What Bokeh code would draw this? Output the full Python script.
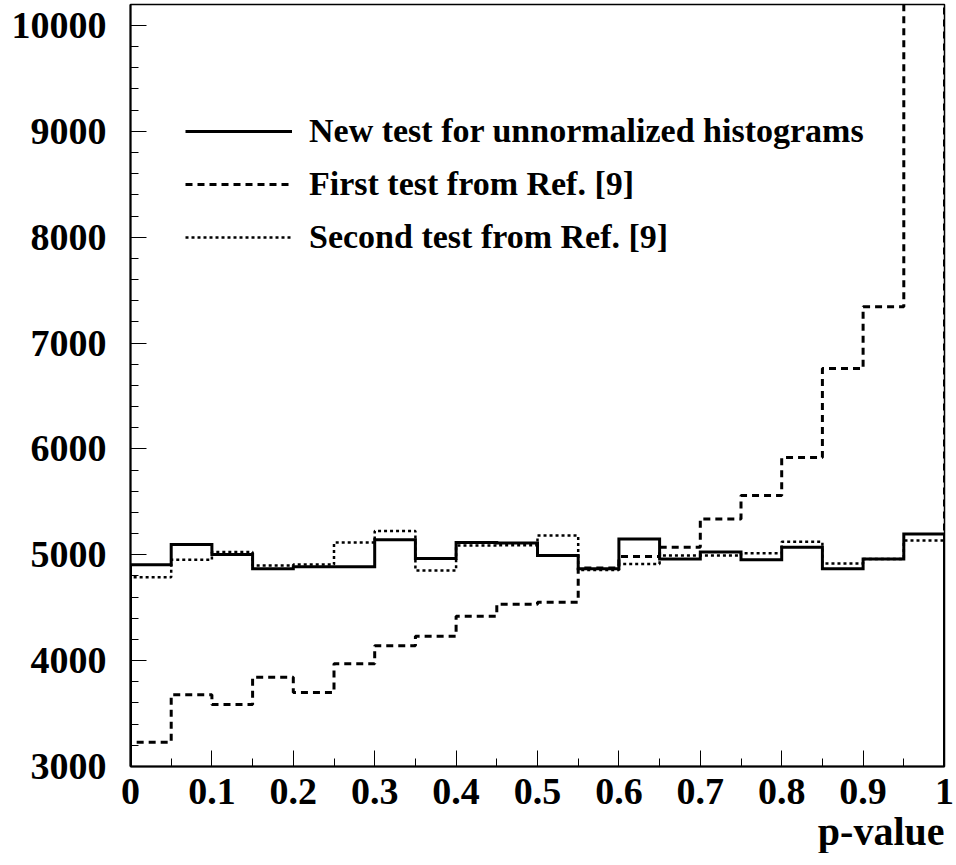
import numpy as np
from bokeh.plotting import figure
from bokeh.models import (SingleIntervalTicker, CustomJSTickFormatter, Legend,
                          LegendItem, Title, Range1d, ColumnDataSource)
from bokeh.embed import file_html
from bokeh.resources import INLINE

# ---- data ----
bin_edges = [0.00, 0.05, 0.10, 0.15, 0.20, 0.25, 0.30, 0.35, 0.40, 0.45, 0.50,
             0.55, 0.60, 0.65, 0.70, 0.75, 0.80, 0.85, 0.90, 0.95, 1.00]
new_test = [4905, 5096, 5002, 4867, 4888, 4888, 5143, 4964, 5115, 5112,
            4992, 4867, 5150, 4961, 5027, 4952, 5071, 4867, 4961, 5197]
first_test = [3229, 3677, 3585, 3843, 3699, 3970, 4140, 4231, 4419, 4533,
              4552, 4876, 4983, 5071, 5339, 5559, 5918, 6759, 7344, 12000]
second_test = [4788, 4952, 5027, 4898, 4907, 5115, 5225, 4851, 5087, 5090,
               5181, 4857, 4914, 4992, 4992, 5014, 5122, 4917, 4961, 5134]
labels = ["New test for unnormalized histograms",
          "First test from Ref. [9]",
          "Second test from Ref. [9]"]
x_label = "p-value"

FONT = "Liberation Serif"


def outline(values):
    xs = np.repeat(np.asarray(bin_edges, dtype=float), 2)
    ys = np.concatenate([[0.0], np.repeat(np.asarray(values, dtype=float), 2), [0.0]])
    return ColumnDataSource(dict(x=xs, y=ys))


p = figure(frame_width=814, frame_height=762, output_backend="svg",
           toolbar_location=None, x_range=Range1d(0, 1),
           y_range=Range1d(3000, 10198),
           min_border_left=130, min_border_right=12, min_border_top=4,
           min_border_bottom=0)

p.xgrid.visible = False
p.ygrid.visible = False
p.outline_line_color = "black"
p.outline_line_width = 1.5
p.outline_line_alpha = 1.0
p.background_fill_color = "white"

r_new = p.line("x", "y", source=outline(new_test), line_color="black",
               line_width=3, line_join="miter")
r_first = p.line("x", "y", source=outline(first_test), line_color="black",
                 line_width=3, line_dash="7 5")
r_second = p.line("x", "y", source=outline(second_test), line_color="black",
                  line_width=2.5, line_dash="3 3")

for ax in (p.xaxis[0], p.yaxis[0]):
    ax.major_tick_in = 16
    ax.major_tick_out = 0
    ax.minor_tick_in = 8
    ax.minor_tick_out = 0
    ax.axis_line_width = 2
    ax.axis_line_color = "black"
    ax.major_tick_line_color = "black"
    ax.minor_tick_line_color = "black"
    ax.major_tick_line_width = 1
    ax.minor_tick_line_width = 1
    ax.major_label_text_font = FONT
    ax.major_label_text_font_style = "bold"
    ax.major_label_text_font_size = "38px"
    ax.major_label_text_color = "black"

p.xaxis.ticker = SingleIntervalTicker(interval=0.1, num_minor_ticks=2)
p.yaxis.ticker = SingleIntervalTicker(interval=1000, num_minor_ticks=5)
p.xaxis.formatter = CustomJSTickFormatter(code="return Number(tick.toFixed(2)).toString();")
p.xaxis.major_label_standoff = 12
p.yaxis.major_label_standoff = 24

legend = Legend(items=[LegendItem(label=labels[0], renderers=[r_new]),
                       LegendItem(label=labels[1], renderers=[r_first]),
                       LegendItem(label=labels[2], renderers=[r_second])],
                location=(55, 509), glyph_width=107, glyph_height=40,
                label_height=40, label_standoff=17, spacing=13, padding=0,
                margin=0, border_line_color=None, background_fill_alpha=0,
                label_text_font=FONT, label_text_font_style="bold",
                label_text_font_size="34px", label_text_color="black")
p.add_layout(legend, "center")

t = Title(text=x_label, align="right", text_font=FONT, text_font_style="bold",
          text_font_size="40px", text_color="black", standoff=0, offset=0)
p.add_layout(t, "below")

open("out.html", "w").write(file_html(p, INLINE))
